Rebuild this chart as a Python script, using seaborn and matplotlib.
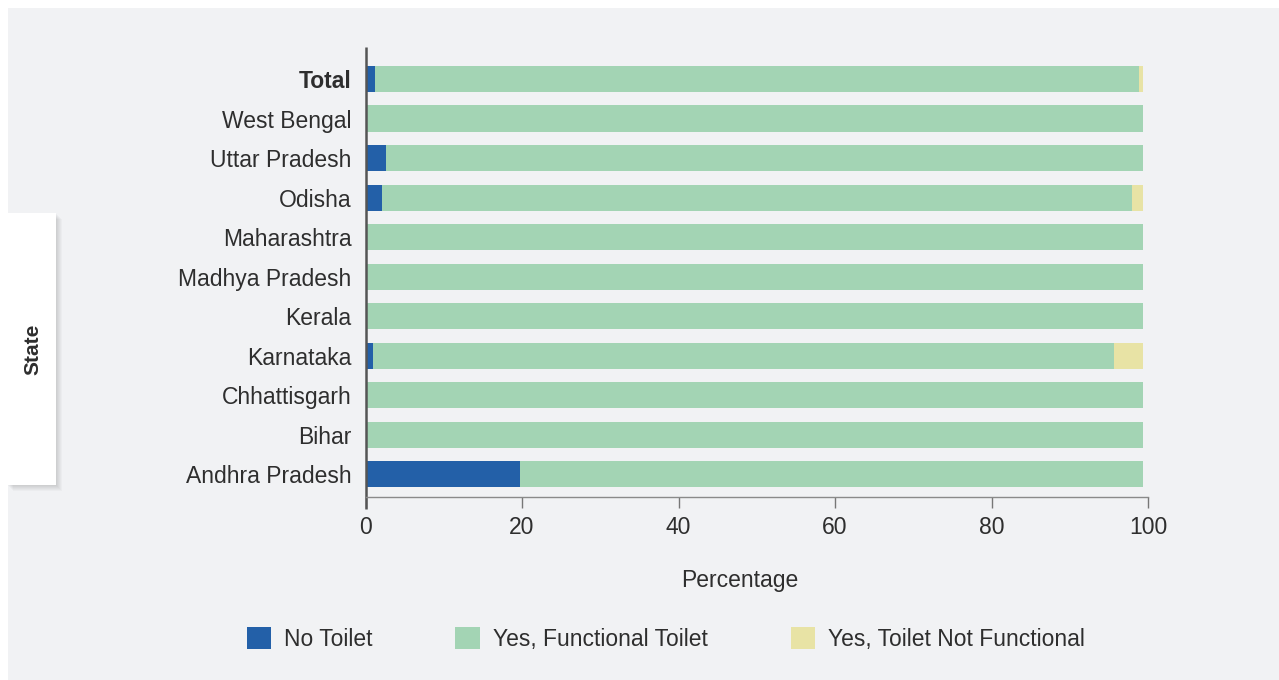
import matplotlib
matplotlib.use("Agg")
import matplotlib.pyplot as plt
import seaborn as sns
import pandas as pd
import numpy as np
from matplotlib.patches import Rectangle, Patch
from matplotlib.lines import Line2D

states = ["Total", "West Bengal", "Uttar Pradesh", "Odisha", "Maharashtra",
          "Madhya Pradesh", "Kerala", "Karnataka", "Chhattisgarh", "Bihar",
          "Andhra Pradesh"]
no_toilet = [1.2, 0.0, 2.6, 2.1, 0.0, 0.0, 0.0, 1.0, 0.0, 0.0, 19.7]
functional = [97.6, 99.3, 96.7, 95.8, 99.3, 99.3, 99.3, 94.7, 99.3, 99.3, 79.7]
not_functional = [0.6, 0.0, 0.0, 1.5, 0.0, 0.0, 0.0, 3.6, 0.0, 0.0, 0.0]
series_names = ["No Toilet", "Yes, Functional Toilet", "Yes, Toilet Not Functional"]
xticks = [0, 20, 40, 60, 80, 100]

C_BLUE = "#2360a8"
C_GREEN = "#a3d4b4"
C_YELLOW = "#e8e3a5"
BG = "#f1f2f4"
TXT = "#2e2e2e"

df = pd.DataFrame({"State": states, "no": no_toilet, "fun": functional, "nf": not_functional})
df["c1"] = df["no"]
df["c2"] = df["no"] + df["fun"]
df["c3"] = df["c2"] + df["nf"]

plt.rcParams["font.family"] = ["Liberation Sans", "DejaVu Sans"]

fig = plt.figure(figsize=(12.79, 6.80), dpi=100)
fig.patch.set_facecolor("white")
W, H = 1279, 680
fig.patches.append(Rectangle((8 / W, 0), 1 - 8 / W, 1 - 8 / H, transform=fig.transFigure,
                             facecolor=BG, edgecolor="none", zorder=-10))

# State box with soft shadow
bx0, bx1, by0, by1 = 7, 56, 213, 485
for i in range(6):
    off = 1 + i
    fig.patches.append(Rectangle(((bx0 + off) / W, (H - by1 - off) / H), (bx1 - bx0) / W,
                                 (by1 - by0) / H, transform=fig.transFigure,
                                 facecolor="black", alpha=0.025, edgecolor="none", zorder=-5))
fig.patches.append(Rectangle((bx0 / W, (H - by1) / H), (bx1 - bx0) / W, (by1 - by0) / H,
                             transform=fig.transFigure, facecolor="white",
                             edgecolor="none", zorder=-4))
fig.text(33 / W, 1 - 349 / H, "State", rotation=90, ha="center", va="center",
         fontsize=15, fontweight="bold", color=TXT)

ax_l, ax_r, ax_t, ax_b = 365.5, 1148, 46.7, 497
ax = fig.add_axes([ax_l / W, 1 - ax_b / H, (ax_r - ax_l) / W, (ax_b - ax_t) / H])
ax.set_facecolor("none")

for col, color in [("c3", C_YELLOW), ("c2", C_GREEN), ("c1", C_BLUE)]:
    sns.barplot(data=df, x=col, y="State", orient="h", color=color, width=0.66,
                saturation=1, ax=ax, errorbar=None, linewidth=0)

ax.set_xlim(0, 100)
ax.set_ylim(10.58, -0.818)
ax.set_xticks(xticks)
ax.set_xticklabels([str(t) for t in xticks])
ax.set_xlabel("")
ax.set_ylabel("")
for s in ["top", "right", "left"]:
    ax.spines[s].set_visible(False)
ax.spines["bottom"].set_color("#8a8a8a")
ax.spines["bottom"].set_linewidth(1.0)
ax.add_line(Line2D([0, 0], [-0.027, 1.0], transform=ax.transAxes, color="#555555",
                   linewidth=1.8, clip_on=False, solid_capstyle="butt"))
ax.tick_params(axis="x", length=8, width=1, color="#777777", labelsize=16.5,
               labelcolor=TXT, pad=6)
ax.tick_params(axis="y", length=0, labelsize=16.5, labelcolor=TXT, pad=10)
for lbl in ax.get_yticklabels():
    if lbl.get_text() == "Total":
        lbl.set_fontweight("bold")

fig.text(740 / W, 1 - 580 / H, "Percentage", ha="center", va="center",
         fontsize=16.5, color=TXT)

handles = [Patch(facecolor=c, edgecolor="none") for c in [C_BLUE, C_GREEN, C_YELLOW]]
leg = fig.legend(handles, series_names, loc="center left",
                 bbox_to_anchor=(226 / W, 1 - 639 / H), ncol=3, frameon=False,
                 fontsize=16.5, handlelength=1.05, handleheight=1.05,
                 handletextpad=0.6, columnspacing=3.6, labelcolor=TXT)

fig.savefig("out.png", dpi=100, facecolor=fig.get_facecolor())
